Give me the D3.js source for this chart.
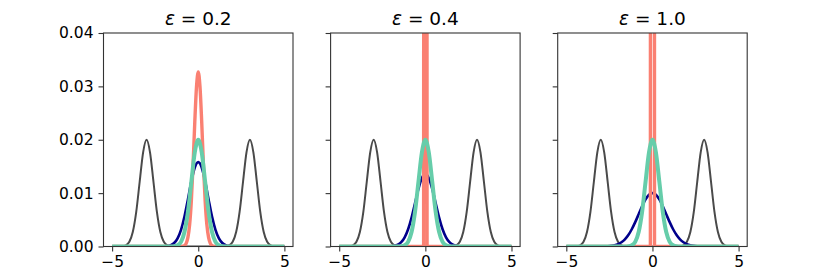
<!DOCTYPE html>
<html>
<head>
<meta charset="utf-8">
<script src="https://cdn.jsdelivr.net/npm/d3@7"></script>
<style>
  html, body { margin:0; padding:0; background:#fff; }
  svg text { font-family: "DejaVu Sans", sans-serif; fill:#000; }
  .axis path, .axis line { stroke:#333; }
</style>
</head>
<body>
<div id="chart"></div>
<script>
// ====== data
const EPSILONS = ["0.2", "0.4", "1.0"];
const X_TICKS  = [-5, 0, 5];
const Y_TICKS  = [0, 0.01, 0.02, 0.03, 0.04];

// shared x grid (step 0.2)
const X_GRID = [-5,-4.8,-4.6,-4.4,-4.2,-4,-3.8,-3.6,-3.4,-3.2,-3,-2.8,-2.6,-2.4,-2.2,-2,-1.8,-1.6,-1.4,-1.2,
  -1,-0.8,-0.6,-0.4,-0.2,0,0.2,0.4,0.6,0.8,1,1.2,1.4,1.6,1.8,2,2.2,2.4,2.6,2.8,
  3,3.2,3.4,3.6,3.8,4,4.2,4.4,4.6,4.8,5];

// input measures (gray), same in every panel
const INPUTS = [0,0,0,0.00004,0.00022,0.00088,0.00271,0.00649,0.01213,0.01765,0.0200,0.01765,0.01213,0.00649,0.00271,0.00088,0.00022,0.00004,
  0,0,0,0,0,0,0,0,0,0,0,0,0,0,0,
  0.00004,0.00022,0.00088,0.00271,0.00649,0.01213,0.01765,0.0200,0.01765,0.01213,0.00649,0.00271,0.00088,0.00022,0.00004,0,0,0];

// true barycenter (teal), same in every panel
const EXACT = [0,0,0,0,0,0,0,0,0,0,0,0,0,0,0,0,0,0,
  0.00004,0.00022,0.00088,0.00271,0.00649,0.01213,0.01765,0.0200,0.01765,0.01213,0.00649,0.00271,0.00088,0.00022,0.00004,
  0,0,0,0,0,0,0,0,0,0,0,0,0,0,0,0,0,0];

// blurred barycenters (navy)
const BLUR_02 = [0,0,0,0,0,0,0,0,0,0,0,0,0,0,0,
  0.00002,0.00008,0.00025,0.00066,0.00154,0.00313,0.00561,0.00882,0.01220,0.01481,0.0158,0.01481,0.01220,0.00882,0.00561,0.00313,0.00154,0.00066,0.00025,0.00008,0.00002,
  0,0,0,0,0,0,0,0,0,0,0,0,0,0,0];
const BLUR_04 = [0,0,0,0,0,0,0,0,0,0,0,0,0,0,0,
  0.00004,0.00013,0.00034,0.00081,0.00172,0.00323,0.00542,0.00811,0.01081,0.01284,0.0136,0.01284,0.01081,0.00811,0.00542,0.00323,0.00172,0.00081,0.00034,0.00013,0.00004,
  0,0,0,0,0,0,0,0,0,0,0,0,0,0,0];
const BLUR_10 = [0,0,0,0,0,0,0,0,0,0,
  0.00001,0.00002,0.00005,0.00011,0.00022,0.00043,0.00079,0.00134,0.00215,0.00323,0.00456,0.00605,0.00754,0.00882,0.00969,0.0100,
  0.00969,0.00882,0.00754,0.00605,0.00456,0.00323,0.00215,0.00134,0.00079,0.00043,0.00022,0.00011,0.00005,0.00002,0.00001,
  0,0,0,0,0,0,0,0,0,0];

// debiased barycenters (salmon)
const SHARP_X_02 = [-5,-1,-0.9,-0.8,-0.7,-0.6,-0.5,-0.4,-0.3,-0.2,-0.1,0,0.1,0.2,0.3,0.4,0.5,0.6,0.7,0.8,0.9,1,5];
const SHARP_Y_02 = [0,0,0.00005,0.0002,0.0006,0.0017,0.0041,0.0086,0.0154,0.0234,0.0300,0.0327,0.0300,0.0234,0.0154,0.0086,0.0041,0.0017,0.0006,0.0002,0.00005,0,0];
const SHARP_X_04 = [-5,-0.1,-0.09,0,0.09,0.1,5];
const SHARP_Y_04 = [0,0,0.16,0.3,0.16,0,0];
const SHARP_X_10 = [-5,-0.12,-0.11,0,0.11,0.12,5];
const SHARP_Y_10 = [0,0,0.16,0.3,0.16,0,0];

const BLURS  = [BLUR_02, BLUR_04, BLUR_10];
const SHARPS = [[SHARP_X_02, SHARP_Y_02], [SHARP_X_04, SHARP_Y_04], [SHARP_X_10, SHARP_Y_10]];

// ====== layout
const W = 830, H = 277;
const PANEL_L = [103.5, 330.6, 557.7], PANEL_W = 189.5;
const TOP = 33, BOTTOM = 246.5;

const svg = d3.select("#chart").append("svg")
  .attr("width", W).attr("height", H).attr("viewBox", [0,0,W,H]);

const y = d3.scaleLinear().domain([0, 0.04]).range([BOTTOM, TOP]);
const zip = (xs, ys) => xs.map((v,i) => [v, ys[i]]);

EPSILONS.forEach((eps, i) => {
  const x = d3.scaleLinear().domain([-5.5, 5.5]).range([PANEL_L[i], PANEL_L[i] + PANEL_W]);
  const g = svg.append("g");

  const clipId = `clip${i}`;
  svg.append("clipPath").attr("id", clipId).append("rect")
    .attr("x", PANEL_L[i]).attr("y", TOP).attr("width", PANEL_W).attr("height", BOTTOM - TOP);

  const smooth = d3.line().x(d => x(d[0])).y(d => y(d[1])).curve(d3.curveMonotoneX);
  const straight = d3.line().x(d => x(d[0])).y(d => y(d[1]));

  const lines = g.append("g").attr("clip-path", `url(#${clipId})`).attr("fill", "none")
    .attr("stroke-linejoin", "round");

  // ordre : entrées, flou, débiaisé, exact
  lines.append("path").attr("d", smooth(zip(X_GRID, INPUTS)))
    .attr("stroke", "#4a4a4a").attr("stroke-width", 2);
  lines.append("path").attr("d", smooth(zip(X_GRID, BLURS[i])))
    .attr("stroke", "#00008b").attr("stroke-width", 2.6);
  const [sx, sy] = SHARPS[i];
  lines.append("path").attr("d", (i === 0 ? smooth : straight)(zip(sx, sy)))
    .attr("stroke", "#fa8072").attr("stroke-width", 3.4);
  lines.append("path").attr("d", smooth(zip(X_GRID, EXACT)))
    .attr("stroke", "#66cdaa").attr("stroke-width", 4);

  // cadre
  g.append("rect").attr("x", PANEL_L[i]).attr("y", TOP).attr("width", PANEL_W).attr("height", BOTTOM - TOP)
    .attr("fill", "none").attr("stroke", "#333").attr("stroke-width", 1.1);

  // axes
  const ax = g.append("g").attr("class", "axis").attr("transform", `translate(0,${BOTTOM})`)
    .call(d3.axisBottom(x).tickValues(X_TICKS).tickSize(5).tickPadding(4)
      .tickFormat(d => d < 0 ? "\u2212" + Math.abs(d) : d));
  ax.select(".domain").remove();
  ax.selectAll("text").attr("font-size", 15.5);

  const ay = g.append("g").attr("class", "axis").attr("transform", `translate(${PANEL_L[i]},0)`)
    .call(d3.axisLeft(y).tickValues(Y_TICKS).tickSize(5).tickPadding(5)
      .tickFormat(i === 0 ? d3.format(".2f") : () => ""));
  ay.select(".domain").remove();
  ay.selectAll("text").attr("font-size", 15.5);
  g.selectAll(".axis line").attr("stroke-width", 1.1);

  // titre
  const t = g.append("text").attr("x", PANEL_L[i] + PANEL_W/2).attr("y", 25)
    .attr("text-anchor", "middle").attr("font-size", 18.5);
  t.append("tspan").attr("font-style", "italic").text("ε");
  t.append("tspan").text(` = ${eps}`);
});
</script>
</body>
</html>
